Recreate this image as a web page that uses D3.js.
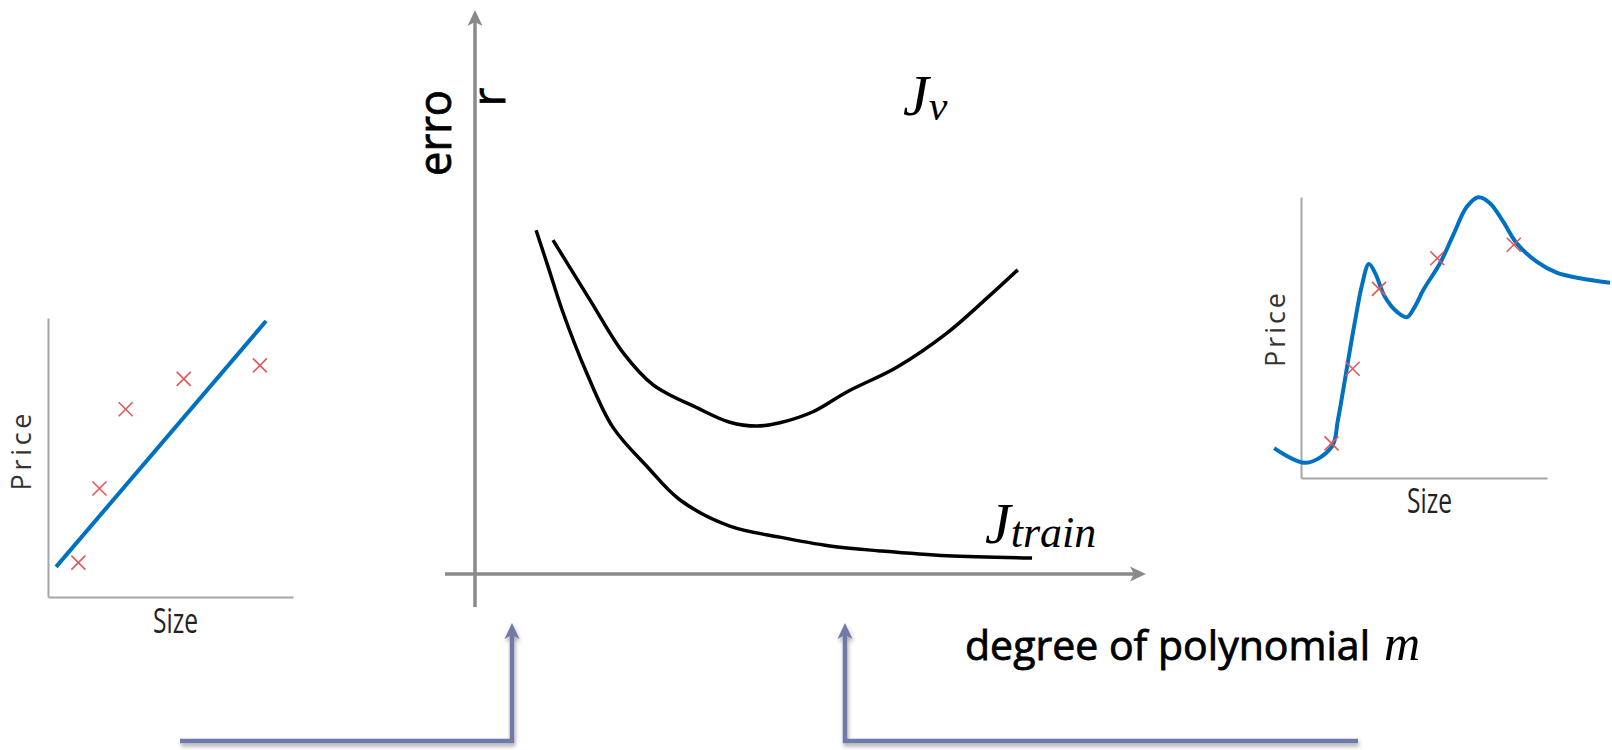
<html>

<head>
    <script src="https://cdnjs.cloudflare.com/ajax/libs/d3/7.8.5/d3.min.js"></script>
    <style>
        body { margin: 0; background: white; }
    </style>
</head>

<body>
    <svg id="container" height="750" width="1612">
        <defs>
            <filter id="shadow" x="-10%" y="-10%" width="120%" height="140%">
                <feDropShadow dx="1" dy="3" stdDeviation="2" flood-color="#000" flood-opacity="0.35" />
            </filter>
        </defs>
        <g id="leftPlot" />
        <g id="rightPlot" />
        <g id="mainPlot" />
        <g id="pointers" />
    </svg>
</body>
<script>
    // the five training examples, shared by both small plots
    let sizeX = [1.24, 2.1, 3.17, 5.54, 8.65]
    let priceY = [1.23, 3.89, 6.73, 7.82, 8.3]

    // straight line fit (underfit)
    let fitX = [0.33, 8.9]
    let fitY = [1.08, 9.89]

    // high degree polynomial (overfit)
    let overX = [-1.09, 0.2, 1.25, 1.5, 1.75, 1.99, 2.24, 2.48, 2.76, 3.01, 3.41, 3.89, 4.3, 4.63, 4.97,
        5.65, 6.19, 6.74, 7.21, 7.68, 8.22, 8.77, 9.58, 10.39, 11.34, 12.56]
    let overY = [1.06, 0.54, 1.11, 2.06, 3.31, 4.56, 5.8, 6.87, 7.62, 7.3, 6.45, 5.92, 5.72, 6.1, 6.69,
        7.64, 8.65, 9.65, 9.99, 9.78, 9.12, 8.35, 7.7, 7.31, 7.11, 6.95]

    // error curves against degree
    let trainDeg = [0.94, 1.14, 1.34, 1.72, 2.12, 2.65, 3.15, 3.92, 4.69, 5.46, 6.23, 7.26, 8.57]
    let trainErr = [6.25, 5.53, 4.8, 3.65, 2.67, 1.95, 1.35, 0.87, 0.67, 0.51, 0.42, 0.33, 0.29]
    let cvDeg = [1.2, 1.77, 2.28, 2.74, 3.42, 3.92, 4.34, 4.69, 5.2, 5.72, 6.49, 7.26, 7.88, 8.35]
    let cvErr = [6.07, 4.98, 4.02, 3.44, 3.02, 2.76, 2.69, 2.75, 2.95, 3.31, 3.76, 4.38, 5.02, 5.53]

    let blue = "#0070c0"
    let red = "#e0585c"
    let axisGray = "#8a8a8a"
    let pointerColor = "#7079a7"

    function zip(xs, ys) {
        return xs.map((d, i) => [d, ys[i]])
    }

    function arrowHead(g, tipX, tipY, dir, color) {
        // dir: "up" or "right"
        let len = 16, half = 7.5, notch = 4
        let pts
        if (dir == "up") {
            pts = [[tipX, tipY], [tipX + half, tipY + len], [tipX, tipY + len - notch], [tipX - half, tipY + len]]
        } else {
            pts = [[tipX, tipY], [tipX - len, tipY - half], [tipX - len + notch, tipY], [tipX - len, tipY + half]]
        }
        g.append("path")
            .attr("d", "M" + pts.join("L") + "Z")
            .attr("fill", color)
    }

    function drawCross(g, cx, cy) {
        let s = 7
        g.append("path")
            .attr("d", `M${cx - s},${cy - s}L${cx + s},${cy + s}M${cx - s},${cy + s}L${cx + s},${cy - s}`)
            .attr("stroke", red)
            .attr("stroke-width", 1.6)
            .attr("fill", "none")
    }

    function drawSmallPlot(g, box, lineX, lineY, curve, labels) {
        let x = d3.scaleLinear().domain([0, 10]).range([box.left, box.right])
        let y = d3.scaleLinear().domain([0, 10]).range([box.bottom, box.top])

        g.append("g")
            .attr("transform", `translate(0, ${box.bottom})`)
            .call(d3.axisBottom(x).tickValues([]).tickSizeOuter(0))
            .select(".domain").attr("stroke", "#a6a6a6").attr("stroke-width", 2)
        g.append("g")
            .attr("transform", `translate(${box.left}, 0)`)
            .call(d3.axisLeft(y).tickValues([]).tickSizeOuter(0))
            .select(".domain").attr("stroke", "#a6a6a6").attr("stroke-width", 2)

        let line = d3.line()
            .x(d => x(d[0]))
            .y(d => y(d[1]))
            .curve(curve)

        g.append("path")
            .datum(zip(lineX, lineY))
            .attr("d", line)
            .attr("fill", "none")
            .attr("stroke", blue)
            .attr("stroke-width", 4)
            .attr("stroke-linecap", "butt")

        zip(sizeX, priceY).forEach(d => drawCross(g, x(d[0]), y(d[1])))

        g.append("text")
            .attr("transform", `translate(${labels.priceX}, ${labels.priceY}) rotate(-90)`)
            .attr("text-anchor", "middle")
            .attr("font-family", "Open Sans")
            .attr("font-size", 27)
            .attr("textLength", labels.priceLen)
            .attr("lengthAdjust", "spacing")
            .attr("fill", "#333")
            .text("Price")

        g.append("text")
            .attr("x", labels.sizeX)
            .attr("y", labels.sizeY)
            .attr("font-family", "Open Sans")
            .attr("font-size", 34)
            .attr("textLength", 45)
            .attr("lengthAdjust", "spacingAndGlyphs")
            .attr("fill", "#222")
            .text("Size")
    }

    function drawMain() {
        let g = d3.select("#mainPlot")
        let x = d3.scaleLinear().domain([0, 10]).range([475, 1125])
        let y = d3.scaleLinear().domain([0, 10]).range([574, 24])

        // axes with arrow heads
        g.append("line")
            .attr("x1", 445).attr("x2", 1136)
            .attr("y1", y(0)).attr("y2", y(0))
            .attr("stroke", axisGray).attr("stroke-width", 3.5)
        arrowHead(g, 1146, y(0), "right", axisGray)
        g.append("line")
            .attr("x1", x(0)).attr("x2", x(0))
            .attr("y1", 607).attr("y2", 20)
            .attr("stroke", axisGray).attr("stroke-width", 3.5)
        arrowHead(g, x(0), 10, "up", axisGray)

        let line = d3.line()
            .x(d => x(d[0]))
            .y(d => y(d[1]))
            .curve(d3.curveCatmullRom)

        g.append("path")
            .datum(zip(trainDeg, trainErr))
            .attr("d", line)
            .attr("fill", "none")
            .attr("stroke", "black")
            .attr("stroke-width", 3.5)

        g.append("path")
            .datum(zip(cvDeg, cvErr))
            .attr("d", line)
            .attr("fill", "none")
            .attr("stroke", "black")
            .attr("stroke-width", 3.5)

        // y label, split around the axis like the original
        g.append("text")
            .attr("transform", "translate(451, 133) rotate(-90)")
            .attr("text-anchor", "middle")
            .attr("font-family", "Open Sans")
            .attr("font-size", 46)
            .attr("stroke", "black")
            .attr("stroke-width", 0.8)
            .attr("textLength", 86)
            .attr("lengthAdjust", "spacingAndGlyphs")
            .text("erro")
        g.append("text")
            .attr("transform", "translate(505, 97) rotate(-90)")
            .attr("text-anchor", "middle")
            .attr("font-family", "Open Sans")
            .attr("font-size", 46)
            .attr("stroke", "black")
            .attr("stroke-width", 0.8)
            .text("r")

        let jv = g.append("text")
            .attr("x", 903).attr("y", 115)
            .attr("font-family", "Liberation Serif")
            .attr("font-style", "italic")
        jv.append("tspan").attr("font-size", 58).text("J")
        jv.append("tspan").attr("font-size", 42).attr("dy", 5).text("v")

        let jt = g.append("text")
            .attr("x", 985).attr("y", 543)
            .attr("font-family", "Liberation Serif")
            .attr("font-style", "italic")
        jt.append("tspan").attr("font-size", 58).text("J")
        jt.append("tspan").attr("font-size", 44).attr("dy", 4).text("train")

        g.append("text")
            .attr("x", 965).attr("y", 660)
            .attr("font-family", "Open Sans")
            .attr("font-size", 41)
            .attr("stroke", "black")
            .attr("stroke-width", 0.8)
            .attr("textLength", 405)
            .attr("lengthAdjust", "spacingAndGlyphs")
            .text("degree of polynomial")
        g.append("text")
            .attr("x", 1384).attr("y", 660)
            .attr("font-family", "Liberation Serif")
            .attr("font-style", "italic")
            .attr("font-size", 50)
            .text("m")
    }

    function drawPointers() {
        let g = d3.select("#pointers")
        let paths = [
            [[180, 741], [512, 741], [512, 635]],
            [[1358, 741], [845, 741], [845, 635]]
        ]
        paths.forEach(p => {
            let pg = g.append("g").attr("filter", "url(#shadow)")
            pg.append("path")
                .attr("d", d3.line()(p))
                .attr("fill", "none")
                .attr("stroke", pointerColor)
                .attr("stroke-width", 4.5)
                .attr("stroke-linejoin", "miter")
            arrowHead(pg, p[2][0], 623, "up", pointerColor)
        })
    }

    drawSmallPlot(d3.select("#leftPlot"),
        { left: 48, right: 293, top: 318, bottom: 597 },
        fitX, fitY, d3.curveLinear,
        { priceX: 31, priceY: 452, priceLen: 77, sizeX: 153, sizeY: 633 })

    drawSmallPlot(d3.select("#rightPlot"),
        { left: 1301, right: 1547, top: 197, bottom: 478 },
        overX, overY, d3.curveCatmullRom,
        { priceX: 1285, priceY: 330, priceLen: 74, sizeX: 1407, sizeY: 513 })

    drawMain()
    drawPointers()

</script>

</html>
